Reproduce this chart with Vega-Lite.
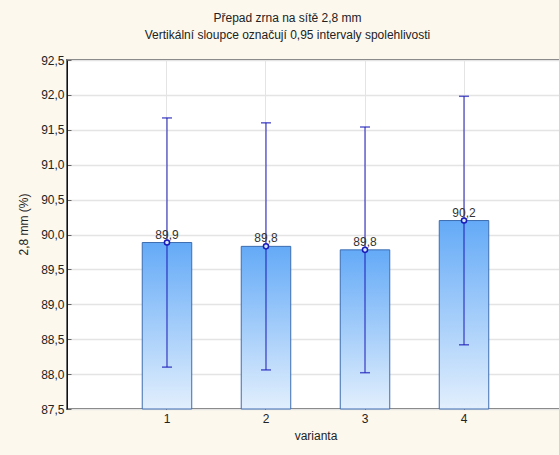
{
  "$schema": "https://vega.github.io/schema/vega-lite/v6.json",
  "autosize": "none",
  "width": 497,
  "height": 349,
  "padding": {"left": 67, "top": 60, "right": 0, "bottom": 46},
  "background": "#fcf8ee",
  "title": {
    "text": "Přepad zrna na sítě 2,8 mm",
    "subtitle": "Vertikální sloupce označují 0,95 intervaly spolehlivosti",
    "anchor": "middle",
    "frame": "group",
    "dx": -28,
    "offset": 12,
    "font": "Liberation Sans",
    "fontSize": 12,
    "fontWeight": "normal",
    "color": "#222222",
    "subtitleFont": "Liberation Sans",
    "subtitleFontSize": 12,
    "subtitleColor": "#222222",
    "subtitlePadding": 5
  },
  "data": {
    "values": [
      {"varianta": "1", "mean": 89.885, "lo": 88.10, "hi": 91.67},
      {"varianta": "2", "mean": 89.83, "lo": 88.06, "hi": 91.60},
      {"varianta": "3", "mean": 89.78, "lo": 88.02, "hi": 91.54},
      {"varianta": "4", "mean": 90.20, "lo": 88.42, "hi": 91.98}
    ]
  },
  "encoding": {
    "x": {
      "field": "varianta",
      "type": "ordinal",
      "scale": {"paddingInner": 0.5, "paddingOuter": 0.76},
      "axis": {
        "title": "varianta",
        "labelAngle": 0,
        "labelFont": "Liberation Sans",
        "labelFontSize": 12,
        "labelColor": "#222222",
        "labelPadding": 8,
        "titleFont": "Liberation Sans",
        "titleFontSize": 12,
        "titleFontWeight": "normal",
        "titleColor": "#222222",
        "titlePadding": 6,
        "grid": true,
        "gridColor": "#e4e4e4",
        "gridWidth": 1,
        "domain": false,
        "ticks": true,
        "tickSize": -4,
        "tickColor": "#333333"
      }
    }
  },
  "layer": [
    {
      "mark": {
        "type": "bar",
        "stroke": "#3d6db0",
        "strokeWidth": 1,
        "color": {
          "gradient": "linear",
          "x1": 0, "y1": 0, "x2": 0, "y2": 1,
          "stops": [
            {"offset": 0, "color": "#64aaf7"},
            {"offset": 1, "color": "#e2effd"}
          ]
        }
      },
      "encoding": {
        "y": {
          "field": "mean",
          "type": "quantitative",
          "scale": {"domain": [87.5, 92.5], "zero": false, "nice": false},
          "axis": {
            "title": "2,8 mm (%)",
            "values": [87.5, 88, 88.5, 89, 89.5, 90, 90.5, 91, 91.5, 92, 92.5],
            "tickCount": 20,
            "format": ".1f",
            "labelOverlap": false,
            "labelFont": "Liberation Sans",
            "labelFontSize": 12,
            "labelColor": "#222222",
            "labelPadding": 7,
            "tickSize": -4,
            "tickColor": "#666666",
            "domainColor": "#111111",
            "domainWidth": 1,
            "grid": true,
            "gridColor": "#e4e4e4",
            "gridWidth": 1.5,
            "titleFont": "Liberation Sans",
            "titleFontSize": 12,
            "titleFontWeight": "normal",
            "titleColor": "#222222",
            "titleX": -44,
            "titleY": 164,
            "titleAngle": -90,
            "titleAlign": "center",
            "titleBaseline": "middle"
          }
        },
        "y2": {"datum": 87.5}
      }
    },
    {
      "mark": {"type": "rule", "color": "#1a1ab8", "strokeWidth": 1},
      "encoding": {
        "y": {"field": "lo", "type": "quantitative"},
        "y2": {"field": "hi"}
      }
    },
    {
      "mark": {"type": "tick", "color": "#1a1ab8", "size": 10, "thickness": 1.5, "orient": "horizontal"},
      "encoding": {"y": {"field": "lo", "type": "quantitative"}}
    },
    {
      "mark": {"type": "tick", "color": "#1a1ab8", "size": 10, "thickness": 1.5, "orient": "horizontal"},
      "encoding": {"y": {"field": "hi", "type": "quantitative"}}
    },
    {
      "mark": {"type": "point", "shape": "circle", "filled": false, "stroke": "#1a1ab8", "fill": "#cfe3fb", "fillOpacity": 1, "strokeWidth": 1.5, "size": 26},
      "encoding": {"y": {"field": "mean", "type": "quantitative"}}
    },
    {
      "mark": {"type": "text", "font": "Liberation Sans", "fontSize": 12, "color": "#333333", "baseline": "bottom", "dy": -1},
      "encoding": {
        "y": {"field": "mean", "type": "quantitative"},
        "text": {"field": "mean", "type": "quantitative", "format": ".1f"}
      }
    }
  ],
  "config": {
    "locale": {
      "number": {"decimal": ",", "thousands": " ", "grouping": [3], "currency": ["", ""]}
    },
    "view": {"fill": "#ffffff", "stroke": "#6e6e6e", "strokeWidth": 2}
  }
}
